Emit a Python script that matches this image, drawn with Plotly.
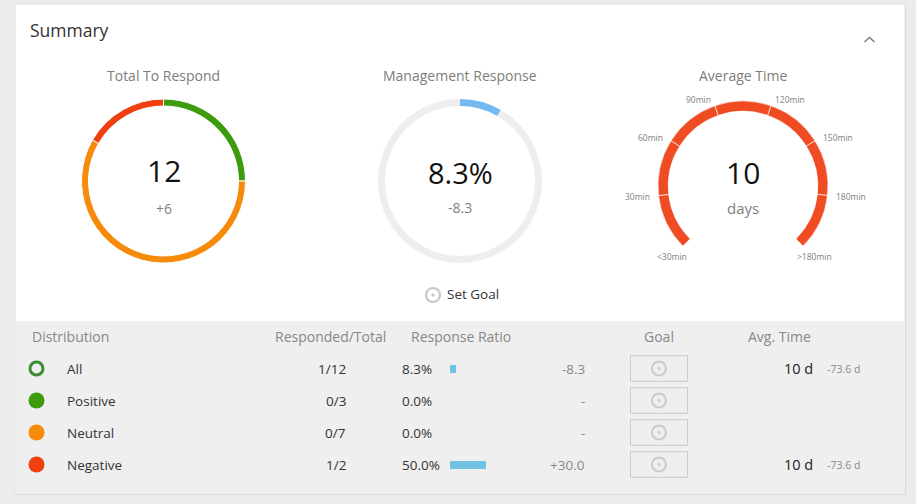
import math
import plotly.graph_objects as go

W, H = 916, 504
FONT = "Open Sans"

# ---------------- data ----------------
sentiment_names = ["Positive", "Neutral", "Negative"]
sentiment_counts = [3, 7, 2]
sentiment_colors = ["#3d9b0e", "#f68a0a", "#f1400f"]
total_to_respond = 12
total_delta = "+6"

mgmt_response_pct = 8.3
mgmt_delta = "-8.3"

avg_time_value = "10"
avg_time_unit = "days"
gauge_labels = ["<30min", "30min", "60min", "90min", "120min", "150min", "180min", ">180min"]
gauge_bands = [1, 1, 1, 1, 1, 1, 1]

dist_names = ["All", "Positive", "Neutral", "Negative"]
responded = [1, 0, 0, 1]
totals = [12, 3, 7, 2]
ratio_pct = [8.3, 0.0, 0.0, 50.0]
ratio_delta = ["-8.3", "-", "-", "+30.0"]
avg_time = ["10 d", "", "", "10 d"]
avg_time_delta = ["-73.6 d", "", "", "-73.6 d"]
headers = ["Distribution", "Responded/Total", "Response Ratio", "Goal", "Avg. Time"]

# ---------------- helpers ----------------
def dom(cx, cy, r):
    return dict(x=[(cx - r) / W, (cx + r) / W], y=[(H - cy - r) / H, (H - cy + r) / H])

def px(x):
    return x / W

def py(y):
    return 1 - y / H

fig = go.Figure()

# Donut 1: Total To Respond
fig.add_trace(go.Pie(
    labels=sentiment_names, values=sentiment_counts, sort=False,
    direction="clockwise", rotation=0, hole=75 / 82,
    marker=dict(colors=sentiment_colors, line=dict(color="white", width=1)),
    textinfo="none", showlegend=False, domain=dom(163.5, 181, 82)))

# Donut 2: Management Response
fig.add_trace(go.Pie(
    labels=["Responded", "Not responded"],
    values=[mgmt_response_pct, 100 - mgmt_response_pct], sort=False,
    direction="clockwise", rotation=0, hole=75 / 82,
    marker=dict(colors=["#74b8f0", "#eeeeee"], line=dict(width=0)),
    textinfo="none", showlegend=False, domain=dom(460, 181, 82)))

# Gauge: Average Time (270 degree arc)
band_total = sum(gauge_bands)
gap = band_total * 90 / 270
fig.add_trace(go.Pie(
    labels=["gap"] + gauge_labels[1:], values=[gap] + gauge_bands, sort=False,
    direction="clockwise", rotation=135, hole=0.88,
    marker=dict(colors=["rgba(0,0,0,0)"] + ["#f04c24"] * len(gauge_bands),
                line=dict(color="rgba(255,255,255,0.8)", width=[0] + [0.8] * len(gauge_bands))),
    textinfo="none", showlegend=False, hoverinfo="skip", domain=dom(743, 186, 85)))

# Response ratio bars
rows = list(range(len(dist_names)))
fig.add_trace(go.Bar(
    x=ratio_pct, y=rows, orientation="h", xaxis="x2", yaxis="y2",
    marker=dict(color="#72c2e3", line=dict(width=0)), width=0.28,
    showlegend=False, hoverinfo="skip"))

# Distribution dots
fig.add_trace(go.Scatter(
    x=[36.5] * 4, y=rows, xaxis="x", yaxis="y2", mode="markers",
    marker=dict(size=[13, 16, 16, 16], opacity=1,
                color=["#efefef"] + sentiment_colors,
                line=dict(color=["#3c8c34", "rgba(0,0,0,0)", "rgba(0,0,0,0)", "rgba(0,0,0,0)"],
                          width=[3, 0, 0, 0])),
    showlegend=False, hoverinfo="skip"))

# Goal icons in table
fig.add_trace(go.Scatter(
    x=[659] * 4, y=rows, xaxis="x", yaxis="y2", mode="markers",
    marker=dict(symbol="circle-open-dot", size=14, color="#cccccc", opacity=1, line=dict(width=2.2)),
    showlegend=False, hoverinfo="skip"))

# Set Goal icon
fig.add_trace(go.Scatter(
    x=[433], y=[295], xaxis="x", yaxis="y", mode="markers",
    marker=dict(symbol="circle-open-dot", size=14, color="#c8c8c8", opacity=1, line=dict(width=2.2)),
    showlegend=False, hoverinfo="skip"))

shapes = [
    dict(type="rect", xref="paper", yref="paper", x0=px(15), x1=px(906), y0=py(5), y1=py(495),
         fillcolor="#d6d6d6", line=dict(width=0), layer="below"),
    dict(type="rect", xref="paper", yref="paper", x0=px(15), x1=px(905), y0=py(4), y1=py(494),
         fillcolor="white", line=dict(color="#e0e0e0", width=1), layer="below"),
    dict(type="rect", xref="paper", yref="paper", x0=px(15.5), x1=px(904.5), y0=py(321), y1=py(493.5),
         fillcolor="#efefef", line=dict(width=0), layer="below"),
    dict(type="path", xref="x", yref="y", path="M 864.5 42 L 869.5 37.5 L 874.5 42",
         line=dict(color="#7a7a7a", width=1.4)),
]
for r in rows:
    shapes.append(dict(type="rect", xref="x", yref="y2", x0=630.5, x1=687.5,
                       y0=r - 0.4, y1=r + 0.4, line=dict(color="#cccccc", width=1),
                       fillcolor="rgba(0,0,0,0)", layer="above"))

ann = []
def txt(text, x, y, size, color, xanchor="center", yanchor="middle", yref="y"):
    ann.append(dict(text=text, x=x, y=y, xref="x", yref=yref, showarrow=False,
                    xanchor=xanchor, yanchor=yanchor,
                    font=dict(family=FONT, size=size, color=color)))

txt("Summary", 28, 30, 17.5, "#333333", xanchor="left")
txt("Total To Respond", 163.5, 75, 14, "#7d7d7d")
txt("Management Response", 460, 75, 14, "#7d7d7d")
txt("Average Time", 743, 75, 14, "#7d7d7d")
txt(str(total_to_respond), 163.5, 170, 30, "#111111")
txt(total_delta, 163.5, 208, 14, "#808080")
txt(f"{mgmt_response_pct}%", 460, 172, 29, "#111111")
txt(mgmt_delta, 460, 207, 14, "#808080")
txt(avg_time_value, 743, 172, 30, "#111111")
txt(avg_time_unit, 743, 208, 15, "#808080")
txt("Set Goal", 445, 294, 13.5, "#333333", xanchor="left")

# gauge tick labels
gcx, gcy = 743, 186
n = len(gauge_labels) - 1
for i, lab in enumerate(gauge_labels):
    a = math.radians(-135 + i * 270 / n)
    if i == 0 or i == n:
        x = gcx + 101 * math.sin(a)
        y = gcy - 99 * math.cos(a)
        txt(lab, x, y, 8.5, "#808080", xanchor="center")
        continue
    x = gcx + 92 * math.sin(a)
    y = gcy - 92 * math.cos(a)
    txt(lab, x, y, 8.5, "#808080", xanchor="right" if x < gcx else "left")

# table headers (row -1)
hc = "#888888"
txt(headers[0], 30, -1, 14, hc, xanchor="left", yref="y2")
txt(headers[1], 388, -1, 14, hc, xanchor="right", yref="y2")
txt(headers[2], 409, -1, 14, hc, xanchor="left", yref="y2")
txt(headers[3], 659, -1, 14, hc, xanchor="center", yref="y2")
txt(headers[4], 746, -1, 14, hc, xanchor="left", yref="y2")

for r in rows:
    txt(dist_names[r], 65, r, 13.5, "#333333", xanchor="left", yref="y2")
    txt(f"{responded[r]}/{totals[r]}", 348, r, 13.5, "#333333", xanchor="right", yref="y2")
    txt(f"{ratio_pct[r]:.1f}%", 400, r, 13.5, "#333333", xanchor="left", yref="y2")
    txt(ratio_delta[r], 587, r, 13.5, "#888888", xanchor="right", yref="y2")
    if avg_time[r]:
        txt(avg_time[r], 815, r, 14.5, "#222222", xanchor="right", yref="y2")
        txt(avg_time_delta[r], 825, r + 0.03, 10.5, "#888888", xanchor="left", yref="y2")

y2_top, y2_bot = 320.5, 480.5
fig.update_layout(
    width=W, height=H, margin=dict(l=0, r=0, t=0, b=0),
    paper_bgcolor="#ececec", plot_bgcolor="rgba(0,0,0,0)",
    font=dict(family=FONT),
    xaxis=dict(range=[0, W], domain=[0, 1], visible=False, fixedrange=True, anchor="y"),
    yaxis=dict(range=[H, 0], domain=[0, 1], visible=False, fixedrange=True, anchor="x"),
    yaxis2=dict(range=[3.5, -1.5], domain=[(H - y2_bot) / H, (H - y2_top) / H],
                visible=False, fixedrange=True, anchor="x"),
    xaxis2=dict(range=[0, 100], domain=[450 / W, 522 / W], visible=False,
                fixedrange=True, anchor="y2"),
    shapes=shapes, annotations=ann, showlegend=False, bargap=0,
)

fig.write_html("out.html", config={"displayModeBar": False})
